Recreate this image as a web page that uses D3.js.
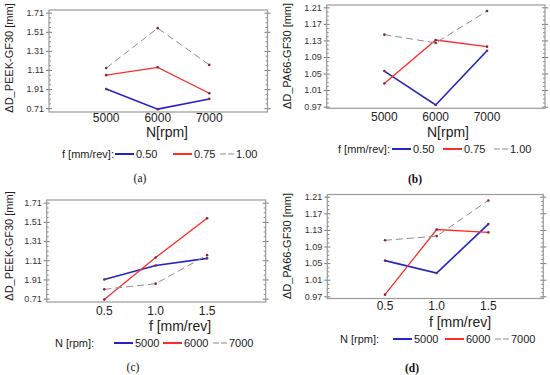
<!DOCTYPE html>
<html>
<head>
<meta charset="utf-8">
<script src="https://cdn.jsdelivr.net/npm/d3@7"></script>
<style>
  body { margin: 0; background: #fff; }
  svg { font-family: "Liberation Sans", Arial, sans-serif; }
</style>
</head>
<body>
<script>
// spindle speed levels and feed levels
const nRpm = [5000, 6000, 7000];
const feedPos = [0.5, 1.0, 1.5];
const nTickLabels = ["5000", "6000", "7000"];
const fTickLabels = ["0.5", "1.0", "1.5"];

// dimensional deviation, one array per feed, indexed by N
const peekF050 = [0.910, 0.700, 0.807];
const peekF075 = [1.056, 1.138, 0.866];
const peekF100 = [1.130, 1.548, 1.163];
const pa66F050 = [1.056, 0.974, 1.105];
const pa66F075 = [1.026, 1.131, 1.115];
const pa66F100 = [1.144, 1.124, 1.201];

const peekTicks = [0.71, 0.91, 1.11, 1.31, 1.51, 1.71];
const peekTickLabels = ["0.71", "1.91", "1.11", "1.31", "1.51", "1.71"];
const pa66Ticks = [0.97, 1.01, 1.05, 1.09, 1.13, 1.17, 1.21];
const pa66TickLabels = ["0.97", "1.01", "1.05", "1.09", "1.13", "1.17", "1.21"];

const fLegend = ["0.50", "0.75", "1.00"];
const nLegend = ["5000", "6000", "7000"];

// series style: blue, red, grey dashed
const styles = [
  { color: "#2424c4", width: 1.6, dash: null },
  { color: "#ff2a2a", width: 1.3, dash: null },
  { color: "#8c8c8c", width: 1, dash: "7,4" }
];

// transpose: rows by N, columns by feed
let byN = (a, b, c) => nRpm.map((d, j) => [a[j], b[j], c[j]]);

let panels = [
  { box: [49, 267.5, 10, 112], xDom: [3890, 8130], yDom: [0.67, 1.738],
    xVals: nRpm, xLabels: nTickLabels, yTicks: peekTicks, yLabels: peekTickLabels,
    series: [peekF050, peekF075, peekF100],
    yTitle: "ΔD_PEEK-GF30 [mm]", yT: [9, 58], xTitle: "N[rpm]", xT: [167, 132], xTickY: 117.5,
    legTitle: "f [mm/rev]:", legX: 62, legY: 154, legItems: fLegend, legLines: [115, 173, 220],
    caption: "(a)", cap: [140, 178], bold: false },
  { box: [326.7, 545, 5, 108.3], xDom: [3877, 8130], yDom: [0.966, 1.2156],
    xVals: nRpm, xLabels: nTickLabels, yTicks: pa66Ticks, yLabels: pa66TickLabels,
    series: [pa66F050, pa66F075, pa66F100],
    yTitle: "ΔD_PA66-GF30 [mm]", yT: [287, 56], xTitle: "N[rpm]", xT: [448, 132], xTickY: 116.5,
    legTitle: "f [mm/rev]:", legX: 338, legY: 149, legItems: fLegend, legLines: [392, 443, 494],
    caption: "(b)", cap: [415, 179], bold: true },
  { box: [46.7, 265.7, 200, 302], xDom: [-0.06, 2.07], yDom: [0.675, 1.738],
    xVals: feedPos, xLabels: fTickLabels, yTicks: peekTicks, yLabels: peekTickLabels,
    series: byN(peekF050, peekF075, peekF100),
    yTitle: "ΔD_PEEK-GF30 [mm]", yT: [9, 246], xTitle: "f [mm/rev]", xT: [180, 326], xTickY: 311,
    legTitle: "N [rpm]:", legX: 55, legY: 343, legItems: nLegend, legLines: [114, 163, 213],
    caption: "(c)", cap: [133, 367], bold: false },
  { box: [327.3, 543.3, 194.5, 298.5], xDom: [-0.0586, 2.032], yDom: [0.9647, 1.2153],
    xVals: feedPos, xLabels: fTickLabels, yTicks: pa66Ticks, yLabels: pa66TickLabels,
    series: byN(pa66F050, pa66F075, pa66F100),
    yTitle: "ΔD_PA66-GF30 [mm]", yT: [287, 246], xTitle: "f [mm/rev]", xT: [460, 322], xTickY: 306,
    legTitle: "N [rpm]:", legX: 340, legY: 339, legItems: nLegend, legLines: [393, 445, 495],
    caption: "(d)", cap: [412, 368], bold: true }
];

let svg = d3.select('body')
  .append('svg')
  .attr('width', 550)
  .attr('height', 375);

panels.forEach(p => {
  let [x0, x1, y0, y1] = p.box;
  let xScale = d3.scaleLinear().domain(p.xDom).range([x0, x1]);
  let yScale = d3.scaleLinear().domain(p.yDom).range([y1, y0]);
  let g = svg.append('g');

  // minor ticks: 4 subdivisions of each major step
  let step = p.yTicks[1] - p.yTicks[0];
  let minor = [];
  for (let i = 0; i < p.yTicks.length - 1; i++)
    for (let k = 1; k < 4; k++) minor.push(p.yTicks[i] + step * k / 4);

  let yLeftMinor = d3.axisLeft(yScale).tickValues(minor).tickSize(-2).tickFormat('');
  let yRightMinor = d3.axisRight(yScale).tickValues(minor).tickSize(-2).tickFormat('');
  [yLeftMinor, yRightMinor].forEach((ax, i) => {
    g.append('g')
      .attr('transform', 'translate(' + (i ? x1 : x0) + ',0)')
      .call(ax)
      .call(s => s.select('.domain').remove())
      .call(s => s.selectAll('line').attr('stroke', '#888'));
  });

  let yAxis = d3.axisLeft(yScale)
    .tickValues(p.yTicks)
    .tickFormat((d, i) => p.yLabels[i])
    .tickSizeInner(3).tickSizeOuter(0).tickPadding(2);
  g.append('g')
    .attr('transform', 'translate(' + x0 + ',0)')
    .call(yAxis)
    .call(s => s.select('.domain').remove())
    .call(s => s.selectAll('line').attr('stroke', '#777').attr('x2', 3).attr('x1', -3))
    .call(s => s.selectAll('text').attr('font-size', 9).attr('fill', '#333'));

  g.append('g')
    .attr('transform', 'translate(' + x1 + ',0)')
    .call(d3.axisRight(yScale).tickValues(p.yTicks).tickFormat('').tickSize(3))
    .call(s => s.select('.domain').remove())
    .call(s => s.selectAll('line').attr('stroke', '#777').attr('x1', -3));

  // frame
  g.append('rect')
    .attr('x', x0).attr('y', y0)
    .attr('width', x1 - x0).attr('height', y1 - y0)
    .attr('fill', 'none')
    .attr('stroke', '#999')
    .attr('stroke-width', 1.2);

  // x tick labels
  g.selectAll('.xlab')
    .data(p.xVals)
    .enter()
    .append('text')
    .attr('x', d => xScale(d))
    .attr('y', p.xTickY)
    .attr('text-anchor', 'middle')
    .attr('dominant-baseline', 'central')
    .attr('font-size', 12)
    .attr('fill', '#222')
    .text((d, i) => p.xLabels[i]);

  let line = d3.line()
    .x((d, i) => xScale(p.xVals[i]))
    .y(d => yScale(d));

  p.series.forEach((s, i) => {
    let st = styles[i];
    g.append('path')
      .datum(s)
      .attr('d', line)
      .attr('fill', 'none')
      .attr('stroke', st.color)
      .attr('stroke-width', st.width)
      .attr('stroke-dasharray', st.dash);
  });

  p.series.forEach(s => {
    g.selectAll(null)
      .data(s)
      .enter()
      .append('circle')
      .attr('cx', (d, i) => xScale(p.xVals[i]))
      .attr('cy', d => yScale(d))
      .attr('r', 1.3)
      .attr('fill', '#7a2a44');
  });

  // titles
  g.append('text')
    .attr('transform', 'translate(' + p.yT[0] + ',' + p.yT[1] + ') rotate(-90)')
    .attr('text-anchor', 'middle')
    .attr('dominant-baseline', 'central')
    .attr('font-size', 11)
    .attr('fill', '#222')
    .text(p.yTitle);

  g.append('text')
    .attr('x', p.xT[0]).attr('y', p.xT[1])
    .attr('text-anchor', 'middle')
    .attr('dominant-baseline', 'central')
    .attr('font-size', 14)
    .attr('fill', '#222')
    .text(p.xTitle);

  // legend
  g.append('text')
    .attr('x', p.legX).attr('y', p.legY)
    .attr('dominant-baseline', 'central')
    .attr('font-size', 11)
    .attr('fill', '#222')
    .text(p.legTitle);

  p.legItems.forEach((t, i) => {
    let st = styles[i];
    let len = st.dash ? 14 : 19;
    let lx = p.legLines[i];
    g.append('line')
      .attr('x1', lx).attr('x2', lx + len)
      .attr('y1', p.legY).attr('y2', p.legY)
      .attr('stroke', st.color)
      .attr('stroke-width', st.dash ? 1.2 : 2)
      .attr('stroke-dasharray', st.dash ? '6,2' : null);
    g.append('text')
      .attr('x', lx + len + 2).attr('y', p.legY)
      .attr('dominant-baseline', 'central')
      .attr('font-size', 11)
      .attr('fill', '#222')
      .text(t);
  });

  g.append('text')
    .attr('x', p.cap[0]).attr('y', p.cap[1])
    .attr('text-anchor', 'middle')
    .attr('dominant-baseline', 'central')
    .attr('font-family', '"Liberation Serif", "Times New Roman", serif')
    .attr('font-size', 11.5)
    .attr('font-weight', p.bold ? 'bold' : 'normal')
    .attr('fill', '#111')
    .text(p.caption);
});
</script>
</body>
</html>
